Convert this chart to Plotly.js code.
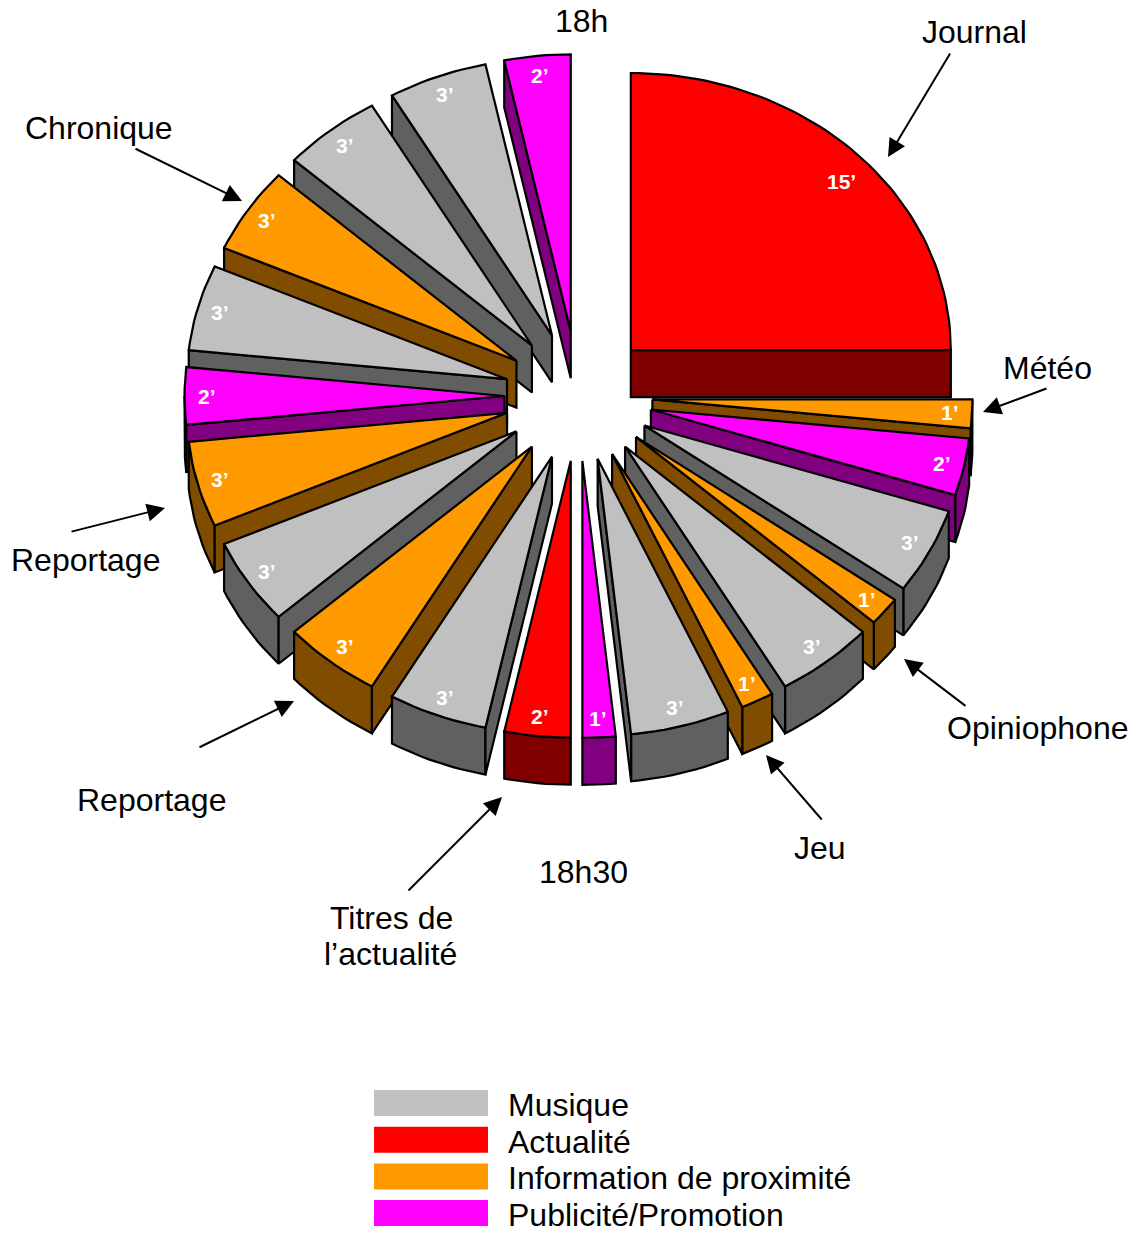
<!DOCTYPE html>
<html><head><meta charset="utf-8">
<script src="https://cdn.plot.ly/plotly-3.0.1.min.js"></script>
<style>html,body{margin:0;padding:0;background:#fff}#chart{width:1139px;height:1234px}</style>
</head><body><div id="chart"></div>
<script>
// Programme order, clockwise from 18h (top): duration in minutes and type
const minutes = [15,1,2,3,1,3,1,3,1,2,3,3,3,3,2,3,3,3,3,2];
const kinds = ['Actualité','Information de proximité','Publicité/Promotion','Musique','Information de proximité','Musique','Information de proximité','Musique','Publicité/Promotion','Actualité','Musique','Information de proximité','Musique','Information de proximité','Publicité/Promotion','Musique','Information de proximité','Musique','Musique','Publicité/Promotion'];
const legendNames = ['Musique','Actualité','Information de proximité','Publicité/Promotion'];
const topColors = {'Musique':'#C0C0C0','Actualité':'#FF0000','Information de proximité':'#FF9900','Publicité/Promotion':'#FF00FF'};
const sideColors = {'Musique':'#606060','Actualité':'#800000','Information de proximité':'#804C00','Publicité/Promotion':'#800080'};
const callouts = [
 ['Journal',974,32,951,52,888,157],
 ['Météo',1047,368,1048,388,983,412],
 ['Opiniophone',1037,728,967,707,904,659],
 ['Jeu',820,848,823,821,766,755],
 ['Titres de',391,918,407,892,502,797],
 ['Reportage',151,800,198,748,294,701],
 ['Reportage',85,560,70,532,165,508],
 ['Chronique',99,128,134,148,242,201]
];
const plainLabels = [['18h',581,21],['18h30',583,872],['l’actualité',390,954]];

const total = minutes.reduce((a,b)=>a+b,0);
const CX=578.5, CY=396, RX=320, RY=277, EX=74, EY=65, DEPTH=47;
const font='"Liberation Sans",Arial,sans-serif';
function pt(ax,ay,a,rx,ry){return [ax+rx*Math.sin(a), ay-ry*Math.cos(a)];}

let start=0; const slices=[];
minutes.forEach((m,i)=>{
  const a0=start/total*2*Math.PI, a1=(start+m)/total*2*Math.PI; start+=m;
  const mid=(a0+a1)/2;
  const [ax,ay]=pt(CX,CY,mid,EX,EY);
  const angles=[]; const n=Math.max(6,m*4);
  for(let k=0;k<=n;k++){angles.push(a0+(a1-a0)*k/n);}
  slices.push({i,m,kind:kinds[i],mid,ax,ay,a0,a1,angles,arc:angles.map(a=>pt(ax,ay,a,RX,RY))});
});
slices.sort((p,q)=>Math.cos(q.mid)-Math.cos(p.mid));

const traces=[];
const common={type:'scatter',mode:'lines',fill:'toself',hoverinfo:'skip',showlegend:false,line:{color:'#000',width:2.2,shape:'linear'}};
function wall(s,pts){
  const xs=pts.map(p=>p[0]), ys=pts.map(p=>p[1]);
  traces.push(Object.assign({},common,{
    x:[...xs,...xs.slice().reverse(),xs[0]],
    y:[...ys,...ys.slice().reverse().map(v=>v+DEPTH),ys[0]],
    fillcolor:sideColors[s.kind]}));
}
slices.forEach(s=>{
  const apex=[s.ax,s.ay];
  // only the walls that face the viewer (lower side of the disc)
  const lower=s.arc.filter((p,k)=>Math.cos(s.angles[k])<1e-9);
  if(lower.length>1) wall(s,lower);
  if(Math.sin(s.a0)<-1e-9) wall(s,[apex,s.arc[0]]);
  if(Math.sin(s.a1)>1e-9) wall(s,[apex,s.arc[s.arc.length-1]]);
  const ax=s.arc.map(p=>p[0]), ay=s.arc.map(p=>p[1]);
  traces.push(Object.assign({},common,{
    x:[s.ax,...ax,s.ax],y:[s.ay,...ay,s.ay],fillcolor:topColors[s.kind]}));
});

const annotations=[];
const LABEL_FRAC=0.93;
slices.forEach(s=>{
  const f=s.m>=15?0.896:LABEL_FRAC;
  const a=s.m>=15?s.mid+0.04:s.mid;
  const p=pt(s.ax,s.ay,a,RX*f,RY*f);
  annotations.push({x:p[0],y:p[1],xref:'x',yref:'y',text:s.m+'’',showarrow:false,
    font:{family:font,size:21,color:'#fff',weight:'bold'},xanchor:'center',yanchor:'middle'});
});
const SIZE=32;
callouts.forEach(c=>{
  annotations.push({x:c[1],y:c[2],xref:'x',yref:'y',text:c[0],showarrow:false,font:{family:font,size:SIZE,color:'#000'},xanchor:'center',yanchor:'middle'});
  annotations.push({x:c[5],y:c[6],ax:c[3],ay:c[4],xref:'x',yref:'y',axref:'x',ayref:'y',text:'',showarrow:true,arrowhead:2,arrowsize:1.8,arrowwidth:2,arrowcolor:'#000',standoff:0,startstandoff:0});
});
plainLabels.forEach(c=>annotations.push({x:c[1],y:c[2],xref:'x',yref:'y',text:c[0],showarrow:false,font:{family:font,size:SIZE,color:'#000'},xanchor:'center',yanchor:'middle'}));

const shapes=[];
legendNames.forEach((name,i)=>{
  const top=1090+i*36.7;
  shapes.push({type:'rect',xref:'x',yref:'y',x0:374,x1:488,y0:top,y1:top+26,fillcolor:topColors[name],line:{width:0}});
  annotations.push({x:506,y:top+15,xref:'x',yref:'y',text:name,showarrow:false,font:{family:font,size:SIZE,color:'#000'},xanchor:'left',yanchor:'middle'});
});

const hidden={visible:false,fixedrange:true};
Plotly.newPlot('chart',traces,{
  width:1139,height:1234,margin:{l:0,r:0,t:0,b:0},paper_bgcolor:'#fff',plot_bgcolor:'#fff',showlegend:false,
  xaxis:Object.assign({range:[0,1139]},hidden),
  yaxis:Object.assign({range:[1234,0]},hidden),
  annotations,shapes
},{displayModeBar:false,staticPlot:true});
</script></body></html>
